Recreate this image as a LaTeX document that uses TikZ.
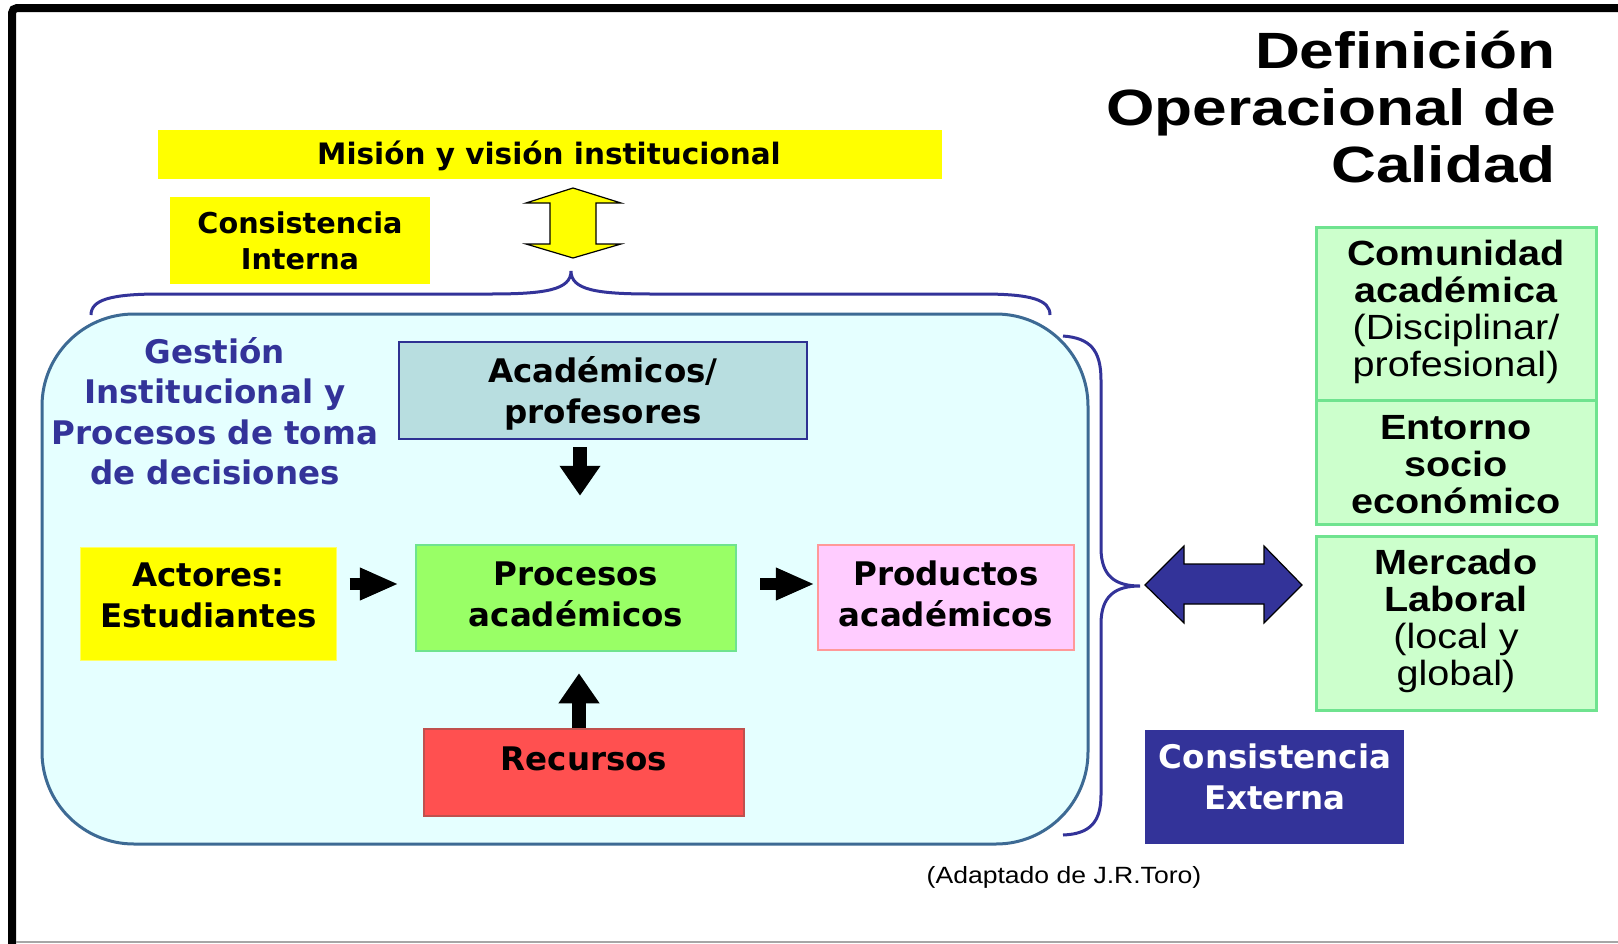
\documentclass[tikz,border=0pt]{standalone}
\usepackage{fontspec}
\usetikzlibrary{arrows.meta}
\newfontfamily\dvs{DejaVu Sans}
\newfontfamily\lib[FakeStretch=1.13]{Liberation Sans}
\newfontfamily\libt[FakeStretch=1.22]{Liberation Sans}
\definecolor{navy}{HTML}{333399}
\definecolor{yel}{HTML}{FFFF00}
\definecolor{steel}{HTML}{3D6A94}
\definecolor{cyanbg}{HTML}{E5FFFF}
\definecolor{acadfill}{HTML}{B8DEE0}
\definecolor{acaddraw}{HTML}{2E3192}
\definecolor{procfill}{HTML}{99FF66}
\definecolor{grdraw}{HTML}{6FE38F}
\definecolor{prodfill}{HTML}{FFCCFF}
\definecolor{proddraw}{HTML}{FF9999}
\definecolor{recfill}{HTML}{FF5050}
\definecolor{recdraw}{HTML}{C0504D}
\definecolor{grfill}{HTML}{CCFFCC}
\tikzset{
  txt/.style={align=center, inner sep=0pt},
  dv/.style={font=\dvs\bfseries\fontsize{32.5}{41.2}\selectfont},
  rbox/.style={inner sep=0pt, line width=2.5pt},
  grbox/.style={rbox, fill=grfill, draw=grdraw, line width=3pt, minimum width=280},
  rt/.style={txt, font=\lib\fontsize{35}{37}\selectfont},
  blkv/.style={line width=14pt, -{Triangle[length=30pt,width=39pt]}},
  blkh/.style={line width=12pt, -{Triangle[length=39pt,width=30pt]}},
  brace/.style={draw=navy, line width=3pt},
}
\begin{document}
\begin{tikzpicture}[x=1pt, y=-1pt]
\useasboundingbox (0,0) rectangle (1618,943);
\fill[white] (0,0) rectangle (1618,943);
% frame
\draw[line width=8pt, rounded corners=5pt] (12,945) -- (12,8) -- (1625,8);
\draw[gray!70, line width=2pt] (16,941.5) -- (1618,941.5);

% title
\node[txt, align=right, anchor=east, font=\libt\bfseries\fontsize{51}{57}\selectfont] (title) at (1556,107) {Definición\\Operacional de\\Calidad};

% top boxes
\node[rbox, fill=yel, minimum width=784, minimum height=49] (mision) at (550,154.5) {};
\node[txt, font=\dvs\bfseries\fontsize{29.5}{36}\selectfont] (misiont) at (549,156) {Misión y visión institucional};
\node[rbox, fill=yel, minimum width=260, minimum height=87] (cint) at (300,240.5) {};
\node[txt, font=\dvs\bfseries\fontsize{28.7}{36.5}\selectfont] (cintt) at (300,241) {Consistencia\\Interna};

% yellow double arrow
\draw[fill=yel, line width=1.2pt, line join=miter] (573,188) -- (621,203) -- (596,203) -- (596,244) -- (621,244) -- (573,258) -- (526,244) -- (550,244) -- (550,203) -- (526,203) -- cycle;

% big rounded area
\node[draw=steel, fill=cyanbg, line width=3pt, rounded corners=92pt, minimum width=1046, minimum height=530, inner sep=0pt] (gest) at (565,579) {};

% top brace
\draw[brace] (91,315) .. controls (91,300) and (110,294) .. (160,294) -- (490,294) .. controls (545,294) and (571,290) .. (571,271) .. controls (571,290) and (597,294) .. (652,294) -- (982,294) .. controls (1032,294) and (1050,300) .. (1050,315);

% gestion text
\node[txt, font=\dvs\bfseries\fontsize{32.5}{40.5}\selectfont, text=navy] (gestt) at (215,411) {Gestión\\Institucional y\\Procesos de toma\\de decisiones};

% inner boxes
\node[rbox, fill=acadfill, draw=acaddraw, minimum width=408, minimum height=97] (acad) at (603,390.5) {};
\node[txt, dv] (acadt) at (603,393) {Académicos/\\profesores};
\node[rbox, fill=yel, draw=yel!60!white, line width=1pt, minimum width=256, minimum height=113] (act) at (208,603.5) {};
\node[txt, dv] (actt) at (208.5,595.5) {Actores:\\Estudiantes};
\node[rbox, fill=procfill, draw=grdraw, minimum width=320, minimum height=106] (proc) at (576,598) {};
\node[txt, dv] (proct) at (576,594.5) {Procesos\\académicos};
\node[rbox, fill=prodfill, draw=proddraw, minimum width=256, minimum height=105] (prod) at (946,597.5) {};
\node[txt, dv] (prodt) at (946,593.5) {Productos\\académicos};
\node[rbox, fill=recfill, draw=recdraw, minimum width=320, minimum height=87] (rec) at (584,772.5) {};
\node[txt, dv] (rect) at (584,759) {Recursos};

% black arrows
\draw[blkv, shorten <=7pt, shorten >=48pt] ([xshift=4pt]acad.south -| proc.north) -- ([xshift=4pt]proc.north);
\draw[blkv, shorten >=21pt] ([xshift=3pt]rec.north -| proc.south) -- ([xshift=3pt]proc.south);
\draw[blkh, shorten <=13pt, shorten >=16pt] ([yshift=19.5pt]act.east) -- ([yshift=14pt]proc.west);
\draw[blkh, shorten <=23pt, shorten >=2pt] ([yshift=14pt]proc.east) -- ([yshift=13.5pt]prod.west);

% right brace
\draw[brace] (1063,336) .. controls (1090,338) and (1101,350) .. (1101,380) -- (1101,548) .. controls (1101,576) and (1115,586) .. (1140,586) .. controls (1115,586) and (1101,596) .. (1101,624) -- (1101,795) .. controls (1101,822) and (1090,834) .. (1063,835);

% blue double arrow
\draw[fill=navy, line width=1.2pt, line join=miter] (1145,585) -- (1184,546) -- (1184,564) -- (1264,564) -- (1264,546) -- (1302,585) -- (1264,623) -- (1264,604) -- (1184,604) -- (1184,623) -- cycle;

% right green boxes
\node[grbox, minimum height=173] (com) at (1456,313.5) {};
\node[rt] (comt) at (1456,312) {\textbf{Comunidad}\\\textbf{académica}\\(Disciplinar/\\profesional)};
\node[grbox, minimum height=124] (ent) at (1456,462) {};
\node[rt] (entt) at (1456,465) {\textbf{Entorno}\\\textbf{socio}\\\textbf{económico}};
\node[grbox, minimum height=174] (mer) at (1456,623) {};
\node[rt] (mert) at (1456,621) {\textbf{Mercado}\\\textbf{Laboral}\\(local y\\global)};

% consistencia externa
\node[rbox, fill=navy, minimum width=259, minimum height=114] (cext) at (1274.5,787) {};
\node[txt, dv, text=white] (cextt) at (1275,777) {Consistencia\\Externa};

% source
\node[txt, font=\lib\fontsize{23.5}{26}\selectfont] (src) at (1064,877) {(Adaptado de J.R.Toro)};
\end{tikzpicture}
\end{document}
